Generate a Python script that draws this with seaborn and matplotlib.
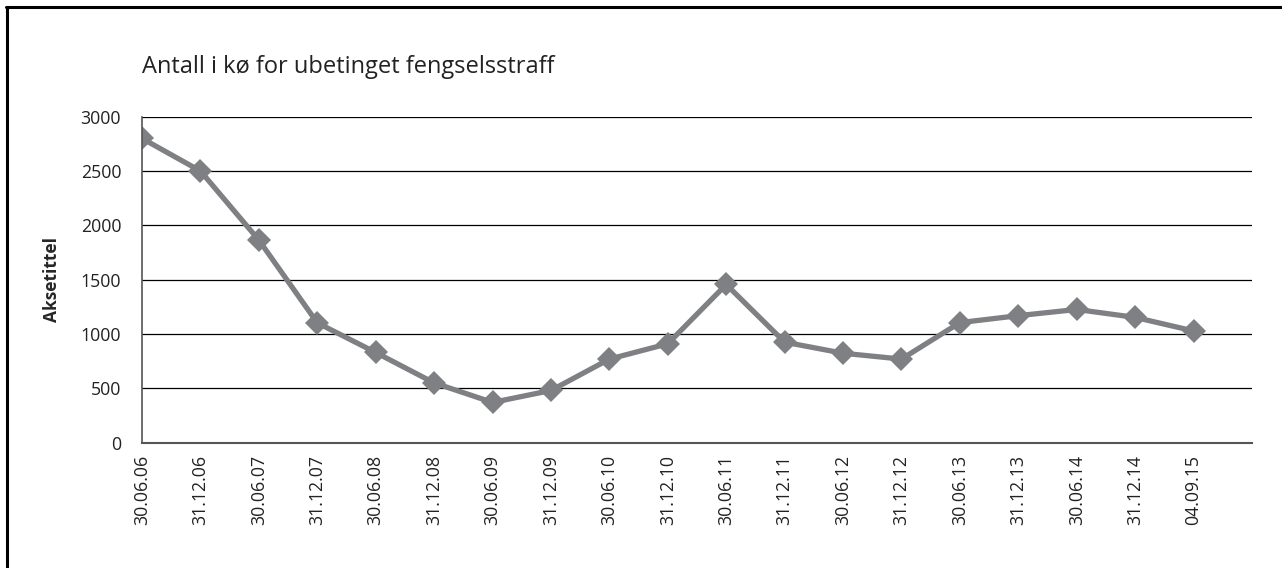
import matplotlib
matplotlib.use("Agg")
import matplotlib.pyplot as plt
import seaborn as sns
import pandas as pd
from matplotlib.lines import Line2D

dates = ["30.06.06", "31.12.06", "30.06.07", "31.12.07", "30.06.08", "31.12.08",
         "30.06.09", "31.12.09", "30.06.10", "31.12.10", "30.06.11", "31.12.11",
         "30.06.12", "31.12.12", "30.06.13", "31.12.13", "30.06.14", "31.12.14",
         "04.09.15"]
antall = [2800, 2500, 1864, 1102, 829, 549, 369, 479, 768, 909, 1455, 924,
          822, 768, 1104, 1168, 1225, 1152, 1027]
y_ticks = [0, 500, 1000, 1500, 2000, 2500, 3000]

sns.set_theme(style="white")
plt.rcParams['font.family'] = ['Open Sans', 'DejaVu Sans']

df = pd.DataFrame({"pos": range(len(dates)), "antall": antall})

fig = plt.figure(figsize=(12.82, 5.68), dpi=100)
ax = fig.add_axes([142/1282, 1 - 442.5/568, (1252 - 142)/1282, (442.5 - 116.7)/568])

line_color = "#7f8083"
sns.lineplot(data=df, x="pos", y="antall", ax=ax, color=line_color, linewidth=3.8,
             marker="D", markersize=12.5, markeredgewidth=0, markerfacecolor=line_color)

ax.set_xlim(0, len(dates))
ax.set_ylim(0, 3000)
ax.set_yticks(y_ticks)
ax.set_yticklabels([str(v) for v in y_ticks], fontsize=12.8, color="#222222")
ax.set_xticks(range(len(dates)))
ax.set_xticklabels(dates, rotation=90, fontsize=12.8, color="#222222")
ax.tick_params(axis="y", length=0, pad=15)
ax.tick_params(axis="x", length=0, pad=9)

for v in y_ticks[1:]:
    ax.axhline(v, color="black", linewidth=0.9, zorder=0)

for s in ["top", "right"]:
    ax.spines[s].set_visible(False)
ax.spines["left"].set_color("#555555")
ax.spines["left"].set_linewidth(1.2)
ax.spines["bottom"].set_color("#555555")
ax.spines["bottom"].set_linewidth(1.5)

ax.set_xlabel("")
ax.set_ylabel("Aksetittel", fontsize=12.5, fontweight="bold", labelpad=14)

fig.text(142/1282, 1 - 67/568, "Antall i kø for ubetinget fengselsstraff",
         fontsize=17, va="center", ha="left", color="#222222")

# outer frame (top and left edges visible in reference)
fig.add_artist(Line2D([6/1282, 1.0], [1 - 7/568, 1 - 7/568], transform=fig.transFigure,
                      color="black", linewidth=2.2))
fig.add_artist(Line2D([7/1282, 7/1282], [0.0, 1 - 7/568], transform=fig.transFigure,
                      color="black", linewidth=2.2))

fig.savefig("out.png", dpi=100)
